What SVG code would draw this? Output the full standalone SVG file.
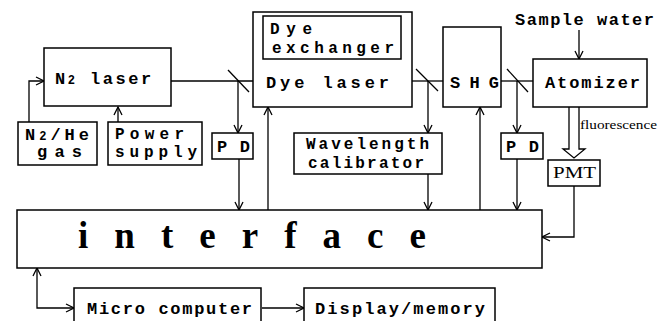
<svg xmlns="http://www.w3.org/2000/svg" width="671" height="321" viewBox="0 0 671 321">
<defs>
<marker id="arr" viewBox="0 0 10 10" refX="9" refY="5" markerWidth="10" markerHeight="10" markerUnits="userSpaceOnUse" orient="auto-start-reverse">
<path d="M1,1 L9,5 L1,9" fill="none" stroke="#000" stroke-width="1.3"/>
</marker>
<style>
.box{fill:#fff;stroke:#000;stroke-width:1.5}
.ln{fill:none;stroke:#000;stroke-width:1.3}
.a{marker-end:url(#arr)}
.t{font-family:"Liberation Mono","DejaVu Sans Mono",monospace;font-weight:bold;font-size:17px;fill:#000}
.t2{font-size:16px}
.s{font-family:"Liberation Serif","DejaVu Serif",serif;fill:#000}
</style>
</defs>
<rect width="671" height="321" fill="#fff"/>

<g id="connectors">
<path class="ln a" d="M29,122 V81 H44"/>
<path class="ln a" d="M118,122 V107"/>
<path class="ln" d="M171,81 H253"/>
<path class="ln" d="M228,70 L249,92"/>
<path class="ln a" d="M238,81 V133"/>
<path class="ln a" d="M239,159 V210"/>
<path class="ln a" d="M268,210 V107"/>
<path class="ln" d="M412,81 H443"/>
<path class="ln" d="M416,69 L438,91"/>
<path class="ln a" d="M428,81 V133"/>
<path class="ln a" d="M428,174 V210"/>
<path class="ln a" d="M480,210 V107"/>
<path class="ln" d="M501,81 H533"/>
<path class="ln" d="M507,69 L528,92"/>
<path class="ln a" d="M517,81 V133"/>
<path class="ln a" d="M517,159 V210"/>
<path class="ln a" d="M579,30 V59"/>
<path class="ln" d="M569,107 V149 H563 L574,158 L585,149 H579 V107" fill="#fff"/>
<path class="ln a" d="M574,186 V237 H542"/>
<path class="ln a" d="M37,268 V308 H74" marker-start="url(#arr)"/>
<path class="ln a" d="M262,308 H304"/>
</g>

<g id="n2laser">
<rect class="box" x="44" y="48" width="127" height="58"/>
<text class="t" x="55" y="84" letter-spacing="2.5">N<tspan font-size="12">2</tspan> laser</text>
</g>
<g id="n2he">
<rect class="box" x="18" y="122" width="79" height="43"/>
<text class="t" x="25" y="140" letter-spacing="4">N<tspan font-size="12">2</tspan>/He</text>
<text class="t" x="37" y="157" textLength="45" lengthAdjust="spacing">gas</text>
</g>
<g id="power">
<rect class="box" x="108" y="122" width="94" height="43"/>
<text class="t t2" x="115" y="139" textLength="69" lengthAdjust="spacing">Power</text>
<text class="t t2" x="115" y="157" textLength="82" lengthAdjust="spacing">supply</text>
</g>
<g id="pd1">
<rect class="box" x="212" y="133" width="41" height="26"/>
<text class="t" x="217" y="152" textLength="33" lengthAdjust="spacing">PD</text>
</g>
<g id="dyelaser">
<rect class="box" x="253" y="12" width="159" height="95"/>
<text class="t" x="266" y="88" textLength="123" lengthAdjust="spacing">Dye laser</text>
</g>
<g id="dyeexchanger">
<rect class="box" x="263" y="16" width="138" height="43"/>
<text class="t t2" x="270" y="34" textLength="42" lengthAdjust="spacing">Dye</text>
<text class="t t2" x="272" y="53" textLength="122" lengthAdjust="spacing">exchanger</text>
</g>
<g id="shg">
<rect class="box" x="443" y="27" width="58" height="80"/>
<text class="t" x="450" y="88" textLength="49" lengthAdjust="spacing">SHG</text>
</g>
<g id="wavelength">
<rect class="box" x="294" y="133" width="148" height="41"/>
<text class="t t2" x="306" y="149" textLength="123" lengthAdjust="spacing">Wavelength</text>
<text class="t t2" x="308" y="168" textLength="116" lengthAdjust="spacing">calibrator</text>
</g>
<g id="atomizer">
<rect class="box" x="533" y="59" width="114" height="48"/>
<text class="t" x="545" y="88" textLength="95" lengthAdjust="spacing">Atomizer</text>
</g>
<g id="sample">
<text class="t" x="515" y="25" textLength="139" lengthAdjust="spacing">Sample water</text>
</g>
<g id="pd2">
<rect class="box" x="501" y="133" width="42" height="26"/>
<text class="t" x="506" y="152" textLength="33" lengthAdjust="spacing">PD</text>
</g>
<g id="fluor">
<text class="s" x="580" y="129" font-size="12" textLength="77" lengthAdjust="spacingAndGlyphs">fluorescence</text>
</g>
<g id="pmt">
<rect class="box" x="548" y="160" width="52" height="26"/>
<text class="s" x="553" y="178" font-size="17" textLength="43" lengthAdjust="spacingAndGlyphs">PMT</text>
</g>
<g id="interface">
<rect class="box" x="17" y="210" width="525" height="58"/>
<text class="s" x="78" y="248" font-size="37" font-weight="bold" textLength="348" lengthAdjust="spacing">interface</text>
</g>
<g id="micro">
<rect class="box" x="74" y="288" width="187" height="40"/>
<text class="t" x="87" y="314" textLength="165" lengthAdjust="spacing">Micro computer</text>
</g>
<g id="display">
<rect class="box" x="304" y="288" width="191" height="40"/>
<text class="t" x="315" y="314" textLength="170" lengthAdjust="spacing">Display/memory</text>
</g>
</svg>
